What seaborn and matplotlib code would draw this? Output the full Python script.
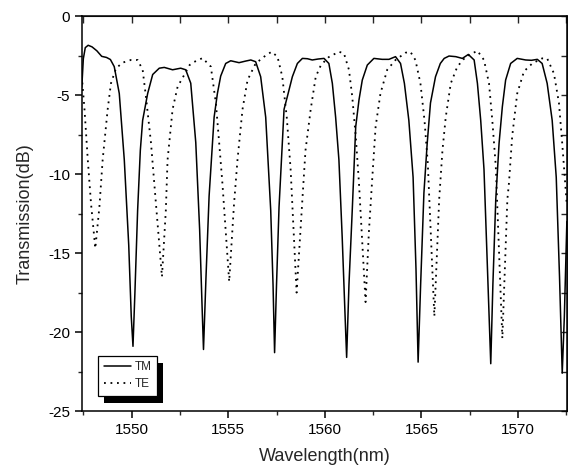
import numpy as np
import pandas as pd
import matplotlib
matplotlib.use('Agg')
import matplotlib.pyplot as plt
from matplotlib.ticker import MultipleLocator
from matplotlib.patches import Rectangle
import seaborn as sns

# values
tm_wl = [1547.42, 1547.50, 1547.60, 1547.75, 1547.95, 1548.20, 1548.45, 1548.70, 1548.90, 1549.10,
         1549.36, 1549.62, 1549.85, 1549.98, 1550.07, 1550.17, 1550.31, 1550.45, 1550.57, 1550.83,
         1551.09, 1551.43, 1551.69, 1552.12, 1552.54, 1552.80, 1553.06, 1553.32, 1553.52, 1553.65,
         1553.72, 1553.85, 1554.01, 1554.27, 1554.44, 1554.61, 1554.87, 1555.13, 1555.56, 1555.90,
         1556.17, 1556.42, 1556.68, 1556.94, 1557.20, 1557.32, 1557.40, 1557.50, 1557.63, 1557.89,
         1558.06, 1558.32, 1558.58, 1558.84, 1559.10, 1559.35, 1559.65, 1559.96, 1560.21, 1560.39,
         1560.56, 1560.73, 1560.90, 1561.05, 1561.13, 1561.25, 1561.42, 1561.60, 1561.77, 1561.94,
         1562.20, 1562.54, 1562.97, 1563.32, 1563.66, 1563.92, 1564.12, 1564.35, 1564.57, 1564.72,
         1564.83, 1564.96, 1565.13, 1565.30, 1565.47, 1565.73, 1565.98, 1566.18, 1566.43, 1566.78,
         1567.12, 1567.43, 1567.73, 1567.90, 1568.07, 1568.24, 1568.42, 1568.59, 1568.70, 1568.85,
         1569.02, 1569.19, 1569.36, 1569.62, 1569.96, 1570.40, 1570.70, 1571.00, 1571.25, 1571.51,
         1571.77, 1571.98, 1572.15, 1572.29, 1572.40, 1572.53]
tm_db = [-4.5, -2.7, -2.0, -1.85, -1.95, -2.2, -2.55, -2.62, -2.75, -3.2,
         -4.9, -9.1, -14.5, -19.0, -20.9, -17.5, -12.3, -8.5, -6.6, -4.9,
         -3.7, -3.3, -3.25, -3.4, -3.3, -3.4, -4.25, -8.0, -13.5, -18.5,
         -21.1, -16.5, -11.4, -6.4, -4.9, -3.8, -3.0, -2.83, -2.95, -2.85,
         -2.78, -2.89, -3.84, -6.4, -12.3, -17.0, -21.3, -17.0, -12.1, -5.9,
         -5.1, -3.84, -3.0, -2.68, -2.7, -2.78, -2.72, -2.68, -3.0, -4.26,
         -6.4, -9.1, -14.0, -19.0, -21.6, -17.0, -12.3, -7.0, -5.3, -4.05,
         -3.1, -2.68, -2.74, -2.74, -2.57, -3.0, -4.26, -6.6, -10.2, -16.0,
         -21.9, -17.0, -11.2, -8.06, -5.5, -3.84, -3.0, -2.68, -2.53, -2.57,
         -2.68, -2.43, -2.78, -4.26, -6.6, -9.7, -16.0, -22.0, -17.0, -11.6,
         -8.06, -5.74, -4.05, -3.0, -2.68, -2.78, -2.8, -2.74, -3.0, -4.26,
         -6.6, -10.2, -16.5, -22.6, -19.0, -13.0]

te_wl = [1547.42, 1547.56, 1547.73, 1547.90, 1548.12, 1548.33, 1548.50, 1548.76, 1548.93, 1549.19,
         1549.53, 1549.96, 1550.31, 1550.57, 1550.74, 1551.00, 1551.26, 1551.57, 1551.77, 1551.86,
         1552.12, 1552.38, 1552.72, 1553.00, 1553.24, 1553.67, 1554.10, 1554.36, 1554.53, 1554.70,
         1555.05, 1555.30, 1555.48, 1555.74, 1556.00, 1556.42, 1556.86, 1557.24, 1557.55, 1557.80,
         1558.03, 1558.23, 1558.54, 1558.84, 1559.00, 1559.27, 1559.53, 1559.80, 1560.20, 1560.73,
         1560.99, 1561.25, 1561.42, 1561.60, 1561.77, 1562.11, 1562.28, 1562.46, 1562.63, 1562.88,
         1563.23, 1563.66, 1564.18, 1564.43, 1564.69, 1564.95, 1565.16, 1565.33, 1565.67, 1565.85,
         1565.92, 1566.09, 1566.26, 1566.52, 1566.86, 1567.30, 1567.90, 1568.24, 1568.50, 1568.67,
         1568.85, 1569.19, 1569.45, 1569.53, 1569.70, 1569.96, 1570.31, 1570.74, 1571.25, 1571.51,
         1571.86, 1572.12, 1572.29, 1572.53]
te_db = [-3.8, -5.9, -9.1, -11.9, -14.7, -12.1, -9.1, -5.9, -4.26, -3.31,
         -2.95, -2.78, -2.78, -3.4, -5.1, -8.0, -11.9, -16.5, -12.3, -9.1,
         -5.9, -4.47, -3.73, -3.1, -2.9, -2.66, -3.2, -5.5, -8.0, -10.6,
         -16.8, -11.9, -9.1, -5.9, -4.05, -3.0, -2.57, -2.26, -2.57, -3.84,
         -6.4, -9.7, -17.5, -11.6, -8.5, -5.9, -3.84, -3.1, -2.6, -2.26,
         -2.36, -3.4, -5.1, -7.6, -10.6, -18.1, -13.7, -10.2, -7.0, -4.9,
         -3.4, -2.78, -2.32, -2.26, -2.78, -4.26, -6.6, -9.3, -19.0, -13.7,
         -11.6, -8.5, -6.4, -4.26, -3.2, -2.57, -2.2, -2.78, -4.26, -6.6,
         -9.5, -20.4, -11.6, -10.6, -7.6, -4.9, -3.5, -3.0, -2.68, -2.68,
         -3.63, -5.5, -8.06, -12.0]

x_ticks = [1550, 1555, 1560, 1565, 1570]
y_ticks = [0, -5, -10, -15, -20, -25]

tm = pd.DataFrame({'wl': tm_wl, 'db': tm_db})
te = pd.DataFrame({'wl': te_wl, 'db': te_db})

sns.set_style('ticks')
plt.rcParams['font.family'] = ['Liberation Sans', 'DejaVu Sans']
plt.rcParams['axes.unicode_minus'] = False

fig = plt.figure(figsize=(5.68, 4.72), dpi=100)
ax = fig.add_axes([0.144, 0.129, 0.854, 0.837])

sns.lineplot(data=tm, x='wl', y='db', ax=ax, color='black', linewidth=1.1,
             estimator=None, sort=False, label='TM')
sns.lineplot(data=te, x='wl', y='db', ax=ax, color='black', linewidth=1.3,
             linestyle=(0, (1, 2.6)), estimator=None, sort=False, label='TE')

ax.set_xlim(1547.42, 1572.53)
ax.set_ylim(-25, 0)
ax.set_xticks(x_ticks)
ax.set_yticks(y_ticks)
ax.xaxis.set_minor_locator(MultipleLocator(2.5))
ax.yaxis.set_minor_locator(MultipleLocator(2.5))
ax.tick_params(which='major', direction='out', length=5, width=1.1, labelsize=11, colors='black')
ax.tick_params(which='minor', direction='out', length=3, width=1.0)
for s in ax.spines.values():
    s.set_visible(True)
    s.set_linewidth(1.1)
    s.set_color('black')

top = ax.secondary_xaxis('top')
top.set_xticks(x_ticks)
top.xaxis.set_minor_locator(MultipleLocator(2.5))
top.tick_params(which='both', direction='in', length=5, width=1.0, labeltop=False)
right = ax.secondary_yaxis('right')
right.set_yticks(y_ticks)
right.yaxis.set_minor_locator(MultipleLocator(2.5))
right.tick_params(which='both', direction='in', length=4, width=1.0, labelright=False)

ax.set_xlabel('Wavelength(nm)', fontsize=13, labelpad=8)
ax.set_ylabel('Transmission(dB)', fontsize=13, labelpad=10)

leg = ax.legend(loc='lower left', bbox_to_anchor=(0.033, 0.038), fontsize=8.5, frameon=True,
                fancybox=False, edgecolor='black', framealpha=1, handlelength=2.3,
                handletextpad=0.3, borderpad=0.5, labelspacing=0.4, borderaxespad=0)
leg.get_frame().set_linewidth(0.9)

fig.canvas.draw()
bb = leg.get_window_extent()
ax.add_patch(Rectangle((bb.x0 + 6, bb.y0 - 7), bb.width, bb.height, transform=None,
                       facecolor='black', edgecolor='none', zorder=4.5, clip_on=False))

fig.savefig('out.png', dpi=100)
